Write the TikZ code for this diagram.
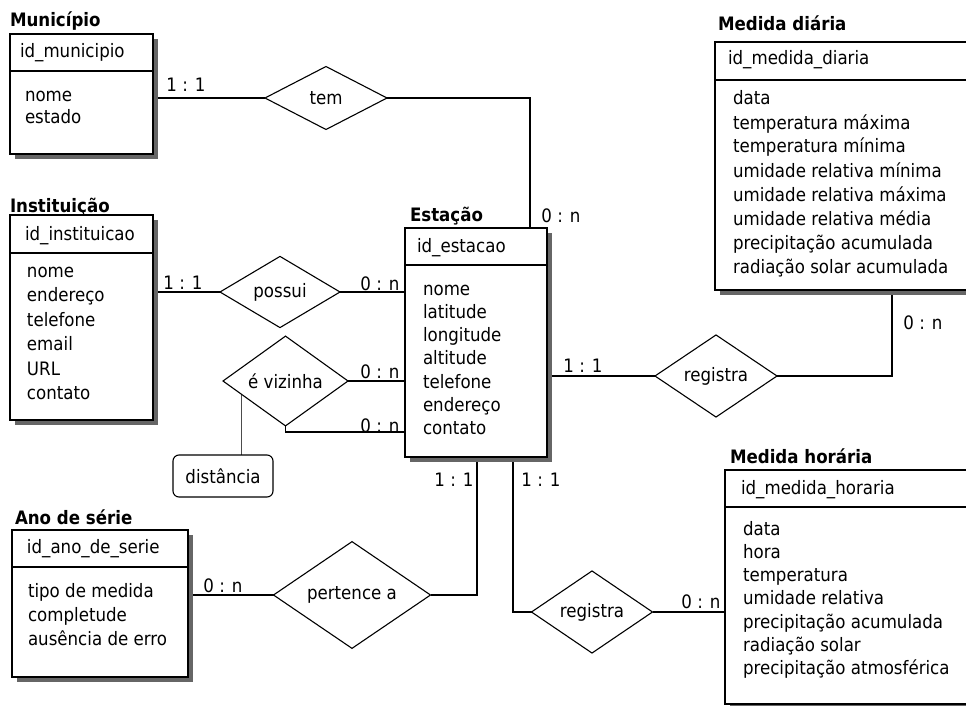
\documentclass[tikz,border=0pt]{standalone}
\usepackage{fontspec}
\setmainfont{DejaVu Sans}[FakeStretch=0.9]
\usetikzlibrary{shapes.geometric,backgrounds}

\tikzset{
  every node/.style={font=\fontsize{18.5}{22}\selectfont, inner sep=0pt, outer sep=0pt},
  conn/.style={line width=1.2pt},
  thinconn/.style={line width=0.8pt, black!70},
  boxline/.style={line width=1.1pt},
  entbox/.style={draw, boxline, fill=white, rectangle, anchor=north west},
  shade/.style={fill=black!60},
  rel/.style={diamond, draw, boxline, fill=white},
  attrbox/.style={draw, boxline, fill=white, rectangle, rounded corners=6pt},
  etitle/.style={anchor=base west, font=\fontsize{18.5}{22}\selectfont\bfseries},
  attr/.style={anchor=base west},
  card/.style={anchor=center},
}

% entity box: name, x, y, width, height, header height
\newcommand{\erentity}[6]{%
  \fill[shade] (#2+5,#3+5) rectangle ++(#4,#5);
  \node[entbox, minimum width=#4, minimum height=#5] (#1) at (#2,#3) {};
  \draw[boxline] ([yshift=-#6]#1.north west) -- ([yshift=-#6]#1.north east);
}
% attribute list: prefix, x, first baseline, line step, items
\newcommand{\erattrs}[5]{%
  \foreach \t [count=\i from 0] in {#5}
    \node[attr] (#1-a\i) at (#2,{#3+#4*\i}) {\t};
}

\begin{document}
\begin{tikzpicture}[x=1pt,y=-1pt]
\useasboundingbox (0,0) rectangle (966,706);
\clip (0,0) rectangle (966,706);

% ---------- entities ----------
% Município
\node[etitle] (mun-t) at (10,27) {Município};
\erentity{mun}{10}{34}{143}{120}{37}
\node[attr] (mun-id) at (20,58) {id\_municipio};
\erattrs{mun}{25}{102}{22}{nome,estado}

% Instituição
\node[etitle] (inst-t) at (10,212) {Instituição};
\erentity{inst}{10}{215}{143}{205}{38}
\node[attr] (inst-id) at (25,240) {id\_instituicao};
\erattrs{inst}{27}{277}{24.5}{nome,endereço,telefone,email,URL,contato}

% Estação
\node[etitle] (est-t) at (410,221) {Estação};
\erentity{est}{405}{228}{142}{229}{37}
\node[attr] (est-id) at (417,252) {id\_estacao};
\erattrs{est}{423}{295}{23.3}{nome,latitude,longitude,altitude,telefone,endereço,contato}

% Medida diária
\node[etitle] (md-t) at (718,31) {Medida diária};
\erentity{md}{715}{42}{255}{248}{38}
\node[attr] (md-id) at (728,65) {id\_medida\_diaria};
\erattrs{md}{733}{105}{24}{data,temperatura máxima,temperatura mínima,umidade relativa mínima,umidade relativa máxima,umidade relativa média,precipitação acumulada,radiação solar acumulada}

% Medida horária
\node[etitle] (mh-t) at (730,463) {Medida horária};
\erentity{mh}{725}{470}{255}{234}{37}
\node[attr] (mh-id) at (741,494) {id\_medida\_horaria};
\erattrs{mh}{743}{535}{23.3}{data,hora,temperatura,umidade relativa,precipitação acumulada,radiação solar,precipitação atmosférica}

% Ano de série
\node[etitle] (ano-t) at (15,524) {Ano de série};
\erentity{ano}{12}{530}{176}{147}{37}
\node[attr] (ano-id) at (27,553) {id\_ano\_de\_serie};
\erattrs{ano}{28}{597}{24}{tipo de medida,completude,ausência de erro}

% ---------- relationships ----------
\node[rel, minimum width=122, minimum height=63] (tem) at (326,98) {tem};
\node[rel, minimum width=120, minimum height=65] (possui) at (280,292) {possui};
\node[rel, minimum width=125, minimum height=72] (viz) at (285.5,381) {é vizinha};
\node[rel, minimum width=122, minimum height=63] (reg1) at (716,376) {registra};
\node[rel, minimum width=121, minimum height=65] (reg2) at (592,612) {registra};
\node[rel, minimum width=157, minimum height=75] (pert) at (352,595) {pertence a};

% attribute of the relationship
\node[attrbox, minimum width=100, minimum height=42] (dist) at (223,476) {distância};

% ---------- attachment points ----------
\coordinate (estN) at (530,228);
\coordinate (estB1) at (477,457);
\coordinate (estB2) at (513,457);
\coordinate (estL) at (405,432);
\coordinate (mdS) at (892,290);
\path (viz.west) -- (viz.south) coordinate[pos=0.3] (vizfoot);

% ---------- connectors ----------
\begin{pgfonlayer}{background}
  \draw[conn] (tem.west) -- (tem.west -| mun.east);
  \draw[conn] (tem.east) -| (estN);
  \draw[conn] (possui.west) -- (possui.west -| inst.east);
  \draw[conn] (possui.east) -- (possui.east -| est.west);
  \draw[conn] (viz.east) -- (viz.east -| est.west);
  \draw[conn] (viz.south) |- (estL);
  \draw[thinconn] (vizfoot) -- (vizfoot |- dist.north);
  \draw[conn] (reg1.west) -- (reg1.west -| est.east);
  \draw[conn] (reg1.east) -| (mdS);
  \draw[conn] (pert.east) -| (estB1);
  \draw[conn] (pert.west) -- (pert.west -| ano.east);
  \draw[conn] (estB2) |- (reg2.west);
  \draw[conn] (reg2.east) -- (reg2.east -| mh.west);
\end{pgfonlayer}

% ---------- cardinalities ----------
\node[card] (c1) at (186,85) {1 : 1};
\node[card] (c2) at (561,216) {0 : n};
\node[card] (c3) at (183,283) {1 : 1};
\node[card] (c4) at (380,284) {0 : n};
\node[card] (c5) at (380,372) {0 : n};
\node[card] (c6) at (380,426) {0 : n};
\node[card] (c7) at (583,366) {1 : 1};
\node[card] (c8) at (923,323) {0 : n};
\node[card] (c9) at (454,480) {1 : 1};
\node[card] (c10) at (541,480) {1 : 1};
\node[card] (c11) at (223,586) {0 : n};
\node[card] (c12) at (701,602) {0 : n};
\end{tikzpicture}
\end{document}
